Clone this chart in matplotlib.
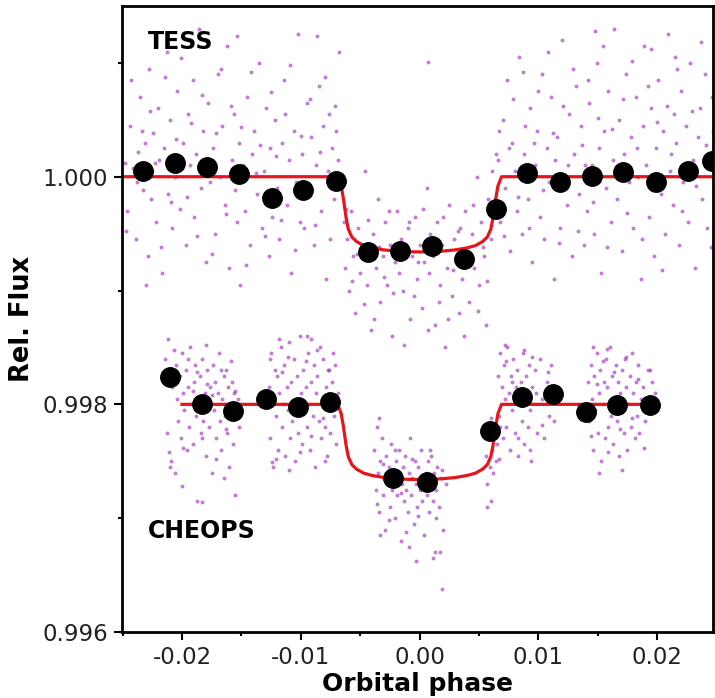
import numpy as np
import matplotlib
matplotlib.use('Agg')
import matplotlib.pyplot as plt
from matplotlib.ticker import MultipleLocator

# Unbinned points: (phase in 1e-4, flux offset in 1e-5)
tess_points = [
    (-248, 12), (-246, -30), (-244, 45), (-241, 8), (-239, -55), (-237, 22), (-235, 70), (-233, -12),
    (-231, 30), (-229, -70), (-228, 95), (-226, -20), (-225, 5),
    (-224, 38), (-222, -40), (-220, 60), (-219, 15), (-217, -85), (-215, 25), (-213, 110), (-212, -15),
    (-210, 50), (-208, -45), (-206, 0), (-204, 75), (-202, -28),
    (-199, 30), (-197, -60), (-195, 55), (-193, 10), (-191, 85), (-190, -35), (-188, 20), (-186, 130),
    (-184, -10), (-182, 40), (-180, -75), (-178, 65), (-176, -5),
    (-174, 25), (-172, -50), (-170, 90), (-168, 0), (-166, 45), (-164, -25), (-162, 115), (-160, -80),
    (-158, 15), (-156, 55), (-154, -40), (-152, 30), (-151, -95), (-154, 124),
    (-149, 10), (-147, -30), (-145, 70), (-143, -60), (-141, 20), (-139, 40), (-137, -15), (-135, 100),
    (-133, -45), (-131, 5), (-129, 60), (-127, -70), (-126, 25),
    (-124, -35), (-122, 50), (-120, -10), (-118, -55), (-116, 30), (-114, 85), (-112, -25), (-110, 15),
    (-108, -85), (-106, 40), (-104, -5), (-102, 125), (-101, -40),
    (-99, 20), (-97, -45), (-95, 65), (-93, -15), (-91, 35), (-89, -60), (-87, 10), (-85, 80),
    (-83, -30), (-81, 45), (-79, -90), (-77, 5), (-76, 55), (-86, 124),
    (-74, 25), (-72, -20), (-70, 40), (-68, 110), (-67, -10),
    (-64, -40), (-63, -80), (-61, -55), (-59, -100), (-58, -30), (-56, -70), (-54, -120), (-52, -45),
    (-50, -85), (-48, -60), (-46, 5), (-44, -95), (-42, -65), (-41, -135),
    (-39, -50), (-37, -80), (-35, -20), (-33, -110), (-31, -70), (-29, -40), (-27, -95), (-25, -60),
    (-23, -140), (-21, -75), (-19, -30), (-17, -85), (-16, -55),
    (-14, -100), (-12, -65), (-10, -45), (-8, -125), (-6, -70), (-4, -35), (-2, -90), (0, -60),
    (2, -115), (4, -75), (6, -10), (8, -85), (9, -50), (7, 101),
    (11, -70), (13, -130), (15, -40), (17, -95), (19, -60), (21, -150), (23, -80), (25, -25),
    (27, -105), (29, -55), (31, -75), (33, -120), (34, -45),
    (36, -90), (38, -30), (40, -65), (42, -110), (44, -50), (46, -80), (48, 0), (50, -95),
    (52, -40), (54, -70), (56, -130), (58, -20), (60, -55), (62, -35), (64, 20),
    (66, 15), (68, -40), (70, 50), (72, -10), (74, 85), (76, -65), (78, 30), (80, 5),
    (82, -30), (84, 105), (86, -50), (88, 20), (89, 45),
    (91, -20), (93, 60), (95, -75), (97, 10), (99, 40), (101, -35), (103, 90), (105, -55),
    (107, 25), (109, -5), (111, 70), (113, -90), (114, 15),
    (116, 35), (118, -45), (120, 120), (122, 0), (124, -25), (126, 55), (128, -70), (130, 20),
    (132, 80), (134, -15), (136, 45), (138, -60), (139, 10),
    (141, -30), (143, 65), (145, 10), (147, -50), (149, 100), (151, 25), (153, -85), (155, 40),
    (157, -10), (159, 75), (161, -40), (163, 15), (164, 130), (148, 128),
    (166, -20), (168, 50), (170, -65), (172, 20), (174, 90), (176, -5), (178, 35), (180, -45),
    (182, 70), (184, 0), (186, -90), (188, 45), (189, 115),
    (191, 10), (193, -35), (195, 60), (197, -70), (199, 25), (201, 85), (203, -15), (205, 40),
    (207, -50), (209, 125), (211, 5), (213, -25), (214, 55), (195, 112), (215, 105),
    (216, 30), (218, -60), (220, 75), (222, -5), (224, 45), (226, -40), (228, 100), (230, 15),
    (232, -80), (234, 35), (236, 60), (238, -20), (240, 90), (242, -45), (244, 20), (246, 70),
    # second pass, in between
    (-247, -48), (-243, 85), (-238, -5), (-234, 40), (-230, -95), (-227, 58), (-223, 12), (-218, -62),
    (-214, 88), (-209, -22), (-205, 33), (-201, 104), (-196, -18), (-192, 47), (-187, -52), (-183, 72),
    (-179, 8), (-175, -68), (-171, 38), (-167, 95), (-163, -33), (-159, 62), (-155, -12), (-150, 44),
    (-146, -78), (-142, 92), (-138, 3), (-134, 28), (-130, -52), (-125, 74), (-121, 18), (-117, -38),
    (-113, 55), (-109, 98), (-105, -64), (-100, 36), (-96, -8), (-92, 68), (-88, -42), (-84, 22),
    (-80, 88), (-75, -55), (-71, 62), (-69, 15),
    (-62, -28), (-57, -92), (-53, -68), (-47, -112), (-43, -38), (-38, -125), (-34, -62), (-30, -88),
    (-26, -30), (-22, -102), (-18, -68), (-13, -148), (-9, -40), (-5, -105), (-1, -75), (3, -28),
    (7, -135), (12, -58), (16, -110), (20, -35), (24, -125), (28, -82), (32, -48), (37, -140),
    (41, -78), (45, -25), (49, -118), (53, -62), (57, -92), (61, 5),
    (67, 40), (71, -52), (75, 25), (79, 68), (83, -18), (87, 92), (92, -45), (96, 30),
    (100, 75), (104, -12), (108, 110), (112, 38), (117, -58), (121, 62), (125, 10), (129, 95),
    (133, -48), (137, 28), (142, 85), (146, -22), (150, 52), (154, 115), (158, -62), (162, 42),
    (167, 8), (171, 68), (175, -32), (179, 102), (183, 25), (187, -55), (192, 80), (196, -12),
    (200, 48), (204, -82), (208, 62), (212, 20), (217, 95), (221, -30), (225, 12), (229, 58),
    (233, -8), (237, 118), (241, 28), (245, -62), (247, 40),
]

# CHEOPS: flux offset relative to 0.998
cheops_points = [
    (-214, 40), (-213, -25), (-212, 57), (-211, 20), (-210, 30), (-209, -50), (-208, 15), (-206, -60),
    (-205, 35), (-204, 5), (-203, -15), (-202, 25), (-201, -30), (-200, 45), (-199, 10), (-198, -5),
    (-197, 30), (-196, -40), (-195, 15), (-194, -20), (-193, 50), (-192, 0), (-191, -35), (-190, 20),
    (-189, 35), (-188, -10), (-187, -85), (-186, 5), (-185, 25), (-184, -25), (-183, 40), (-182, -15),
    (-181, 10), (-180, -45), (-179, 30), (-178, 0), (-177, -20), (-176, 15), (-175, -60), (-174, 35),
    (-173, -5), (-172, 20), (-171, -30), (-170, 10), (-169, 45), (-168, -15), (-167, -40), (-166, 5),
    (-165, 25), (-164, -10), (-163, 30), (-162, -25), (-161, 15), (-160, -55), (-159, 0), (-158, 20),
    (-157, -35), (-156, 10), (-155, -80), (-153, 5), (-152, -20), (-183, -86),
    (-211, -42), (-207, 48), (-203, 22), (-199, -38), (-195, 40), (-191, 12), (-187, 28), (-183, -30),
    (-179, 18), (-175, 8), (-171, -48), (-167, 30), (-163, -22), (-159, 38), (-155, 12), (-210, -55),
    (-200, -72), (-180, 52), (-165, -65),
    (-127, 15), (-126, -30), (-125, 45), (-124, 5), (-123, -55), (-122, 30), (-121, -10), (-120, 25),
    (-119, -40), (-118, 10), (-117, 50), (-116, -20), (-115, 0), (-114, 35), (-113, -45), (-112, 15),
    (-111, -5), (-110, 55), (-109, -30), (-108, 20), (-107, -15), (-106, 40), (-105, -50), (-104, 5),
    (-103, 25), (-102, -25), (-101, 60), (-100, 10), (-99, -35), (-98, 30), (-97, -5), (-96, 15),
    (-95, -20), (-94, 45), (-93, 0), (-92, -40), (-91, 20), (-90, -10), (-89, 35), (-88, -55),
    (-87, 10), (-86, 25), (-85, -15), (-84, 50), (-83, -30), (-82, 5), (-81, 40), (-80, -20),
    (-79, 15), (-78, -45), (-77, 30), (-76, 0), (-75, -25), (-74, 20), (-73, 45), (-72, -10),
    (-71, 35), (-70, -35), (-69, 10), (-118, 57), (-91, 57), (-124, -51),
    (-126, 40), (-121, -48), (-116, 28), (-111, 42), (-106, -8), (-101, -42), (-96, 38), (-91, -28),
    (-86, 48), (-81, -12), (-76, 30), (-71, 8), (-110, -58), (-95, 60), (-80, -50),
    (-38, -40), (-37, -75), (-36, -20), (-35, -60), (-34, -95), (-33, -50), (-32, -30), (-31, -80),
    (-30, -65), (-29, -110), (-28, -45), (-27, -70), (-26, -55), (-25, -90), (-24, -35), (-23, -75),
    (-22, -60), (-21, -100), (-20, -50), (-19, -80), (-18, -65), (-17, -40), (-16, -120), (-15, -70),
    (-14, -55), (-13, -85), (-12, -45), (-11, -75), (-10, -95), (-9, -60), (-8, -30), (-7, -80),
    (-6, -65), (-5, -105), (-4, -50), (-3, -70), (-2, -90), (-1, -55), (0, -75), (1, -40),
    (2, -85), (3, -65), (4, -115), (5, -60), (6, -80), (7, -50), (8, -95), (9, -70),
    (10, -45), (11, -85), (12, -60), (13, -130), (14, -75), (15, -55), (16, -90), (18, -65),
    (20, -110), (22, -70), (-34, -12), (-3, -138), (17, -130), (19, -162),
    (-36, -88), (-31, -52), (-26, -102), (-21, -40), (-16, -78), (-11, -112), (-6, -48), (-1, -98),
    (4, -72), (9, -40), (14, -100), (19, -58), (-33, -115), (-9, -125), (11, -135),
    (56, -45), (57, -70), (58, -30), (59, -55), (60, -85), (61, -40), (62, -60), (63, -20),
    (64, -50), (65, -35), (57, -90), (60, -12),
    (66, 25), (67, -10), (68, 45), (69, 15), (70, -30), (71, 35), (72, 5), (73, -20),
    (74, 50), (75, 10), (76, -40), (77, 25), (78, -5), (79, 40), (80, -25), (81, 15),
    (82, 30), (83, -45), (84, 0), (85, 20), (86, -15), (87, 45), (88, -35), (89, 10),
    (90, 25), (91, -20), (92, 35), (93, -5), (94, -50), (95, 15), (97, 30), (99, -25),
    (101, 40), (103, 5), (105, -30), (107, 20), (109, -10), (111, 35), (113, -15), (95, 42),
    (68, -20), (73, 38), (78, 20), (83, -30), (88, 48), (93, -40), (98, 10), (103, -18),
    (108, 28), (67, -48), (72, 52),
    (142, 20), (143, -15), (144, 35), (145, 5), (146, -40), (147, 25), (148, -5), (149, 45),
    (150, -25), (151, 10), (152, 30), (153, -50), (154, 0), (155, 20), (156, -30), (157, 40),
    (158, 15), (159, -20), (160, 50), (161, -10), (162, 25), (163, -35), (164, 5), (165, 35),
    (166, -15), (167, 20), (168, -45), (169, 10), (170, 30), (171, -5), (172, -25), (173, 40),
    (174, 15), (175, -40), (176, 0), (177, 25), (178, -20), (179, 45), (180, 10), (181, -30),
    (182, 20), (183, -10), (184, 35), (185, -25), (186, 5), (188, 15), (190, -15), (192, 30),
    (194, -5), (196, 20), (198, 10), (158, 49), (151, -60),
    (144, -28), (149, 18), (154, 38), (159, -42), (164, 28), (169, -22), (174, 42), (179, -12),
    (184, 22), (189, -38), (194, 30), (146, 50), (170, -58),
]

# Binned points
tess_bin_phase = [-0.02328, -0.02059, -0.01790, -0.01521, -0.01244, -0.00983, -0.00706,
                  -0.00437, -0.00168, 0.00101, 0.00378, 0.00647, 0.00908, 0.01185,
                  0.01454, 0.01714, 0.01992, 0.02261, 0.02462]
tess_bin_flux = [1.000053, 1.000123, 1.000088, 1.000026, 0.999815, 0.999885, 0.999965,
                 0.999339, 0.999348, 0.999392, 0.999278, 0.999718, 1.000035, 0.999956,
                 1.000009, 1.000044, 0.999956, 1.000053, 1.000141]

cheops_bin_phase = [-0.02101, -0.01832, -0.01571, -0.01294, -0.01025, -0.00756, -0.00227,
                    0.00059, 0.00597, 0.00866, 0.01126, 0.01403, 0.01664, 0.01941]
cheops_bin_flux = [0.998238, 0.998000, 0.997938, 0.998044, 0.997974, 0.998018, 0.997357,
                   0.997322, 0.997762, 0.998062, 0.998088, 0.997930, 0.997991, 0.997991]

# Transit model (half, mirrored): phase and depth in 1e-5
model_half_phase = [0.0, 0.0010, 0.0020, 0.0030, 0.0040, 0.0047, 0.0053, 0.0057,
                    0.0060, 0.0062, 0.0064, 0.0066, 0.0069]
model_half_depth = [-66.1, -65.9, -65.3, -64.3, -62.5, -60.5, -57.0, -53.0,
                    -46.0, -35.0, -20.0, -8.0, 0.0]

tess_range = (-0.026, 0.026)
cheops_range = (-0.0200, 0.0199)

# ---------------------------------------------------------------------------
tp = np.array(tess_points, dtype=float)
cp = np.array(cheops_points, dtype=float)

hp = np.array(model_half_phase)
hd = np.array(model_half_depth) * 1e-5
mphase = np.concatenate([-hp[::-1], hp[1:]])
mdepth = np.concatenate([hd[::-1], hd[1:]])

fig = plt.figure(figsize=(7.15, 6.98), dpi=100)
ax = fig.add_axes([0.1706, 0.0946, 0.8266, 0.8968])

dot_kw = dict(s=8, color='#9a28b8', alpha=0.6, lw=0, zorder=1)
ax.scatter(tp[:, 0] * 1e-4, 1.0 + tp[:, 1] * 1e-5, **dot_kw)
ax.scatter(cp[:, 0] * 1e-4, 0.998 + cp[:, 1] * 1e-5, **dot_kw)

# models
tx = np.concatenate([[tess_range[0]], mphase, [tess_range[1]]])
ty = np.concatenate([[0.0], mdepth, [0.0]])
ax.plot(tx, 1.0 + ty, color='#e8141c', lw=2.3, zorder=2)
cx = np.concatenate([[cheops_range[0]], mphase, [cheops_range[1]]])
ax.plot(cx, 0.998 + ty, color='#e8141c', lw=2.3, zorder=2)

ax.plot(tess_bin_phase, tess_bin_flux, 'o', color='black', ms=14, zorder=3)
ax.plot(cheops_bin_phase, cheops_bin_flux, 'o', color='black', ms=14, zorder=3)

ax.set_xlim(-0.02505, 0.0247)
ax.set_ylim(0.996, 1.0015)

ax.xaxis.set_major_locator(MultipleLocator(0.01))
ax.xaxis.set_minor_locator(MultipleLocator(0.005))
ax.yaxis.set_major_locator(MultipleLocator(0.002))
ax.yaxis.set_minor_locator(MultipleLocator(0.001))
ax.xaxis.set_major_formatter(plt.FormatStrFormatter('%.2f'))
ax.yaxis.set_major_formatter(plt.FormatStrFormatter('%.3f'))

ax.tick_params(which='major', direction='out', length=6, width=1.5,
               labelsize=16.5, labelcolor='#222222', pad=4)
ax.tick_params(which='minor', direction='out', length=3, width=1.5)
for sp in ax.spines.values():
    sp.set_linewidth(2)

ax.set_xlabel('Orbital phase', fontsize=18, fontweight='bold', labelpad=2)
ax.set_ylabel('Rel. Flux', fontsize=18.5, fontweight='bold', labelpad=5)

ax.text(0.044, 0.942, 'TESS', transform=ax.transAxes, fontsize=17,
        fontweight='bold', va='center', ha='left')
ax.text(0.044, 0.162, 'CHEOPS', transform=ax.transAxes, fontsize=17,
        fontweight='bold', va='center', ha='left')

fig.savefig('out.png', dpi=100)
